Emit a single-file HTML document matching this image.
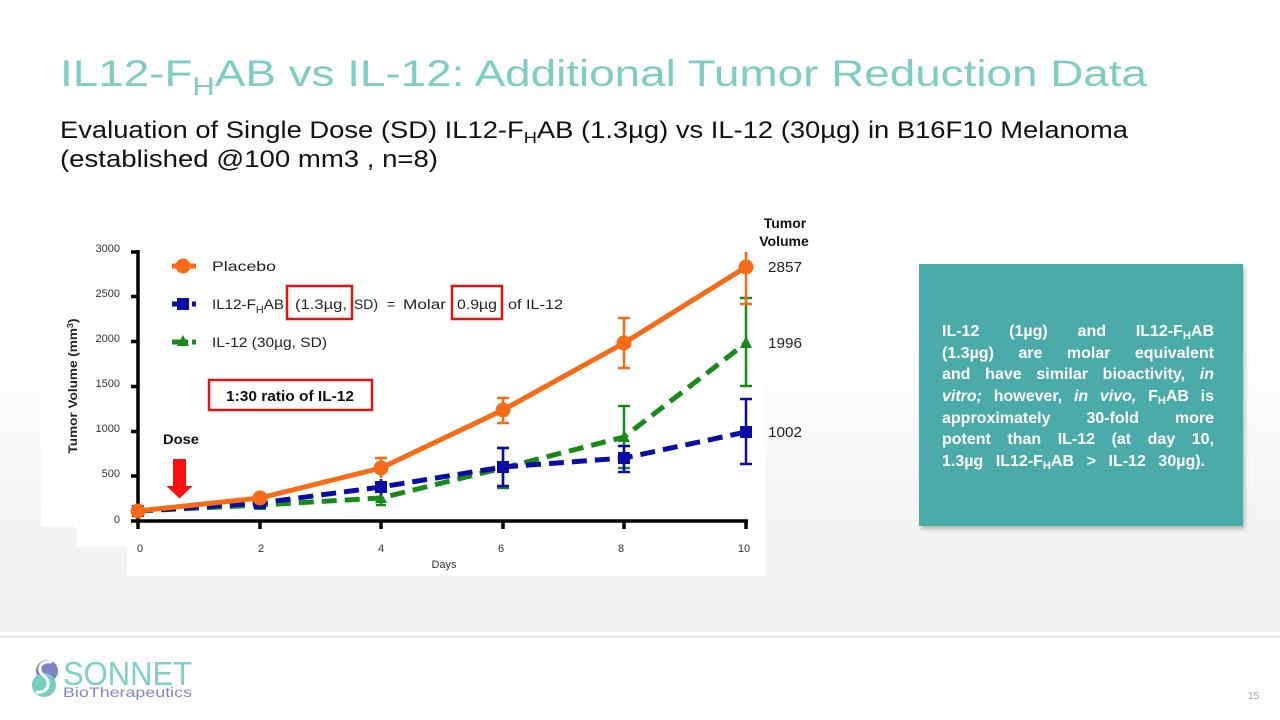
<!DOCTYPE html>
<html>
<head>
<meta charset="utf-8">
<style>
  html,body{margin:0;padding:0;background:#fff;}
  body{position:relative;width:1280px;height:720px;overflow:hidden;}
  svg{display:block;position:absolute;left:0;top:0;}
  text{font-family:"Liberation Sans", Arial, sans-serif;}
  #box{position:absolute;left:942px;top:321px;width:272px;color:#fff;font-family:"Liberation Sans", Arial, sans-serif;font-weight:bold;font-size:16px;line-height:21.7px;}
  #box div{height:21.7px;text-align:justify;text-align-last:justify;white-space:nowrap;}
  #box div.last{width:263px;}
  #box span.s{font-size:11px;position:relative;top:3px;}
  #box i{font-style:italic;}
</style>
</head>
<body>
<svg width="1280" height="720" viewBox="0 0 1280 720" xmlns="http://www.w3.org/2000/svg">
  <defs>
    <linearGradient id="bg" x1="0" y1="0" x2="0" y2="1">
      <stop offset="0" stop-color="#ffffff"/>
      <stop offset="0.55" stop-color="#ffffff"/>
      <stop offset="1" stop-color="#efefef"/>
    </linearGradient>
    <filter id="sh" x="-10%" y="-10%" width="120%" height="120%">
      <feGaussianBlur stdDeviation="2"/>
    </filter>
  </defs>

  <!-- background -->
  <rect x="0" y="0" width="1280" height="632" fill="url(#bg)"/>
  <rect x="0" y="632" width="1280" height="88" fill="#ffffff"/>
  <line x1="0" y1="636.8" x2="1280" y2="636.8" stroke="#e0e0e0" stroke-width="1.5"/>

  <!-- chart white image area -->
  <rect x="41" y="200" width="36" height="327" fill="#ffffff"/>
  <rect x="77" y="200" width="51" height="347" fill="#ffffff"/>
  <rect x="127" y="200" width="638" height="376" fill="#ffffff"/>

  <!-- Title -->
  <text x="60" y="86" font-size="37" fill="#7ecdc1" textLength="1087" lengthAdjust="spacingAndGlyphs">IL12-F<tspan font-size="25" dy="9">H</tspan><tspan dy="-9">AB vs IL-12: Additional Tumor Reduction Data</tspan></text>

  <!-- Subtitle -->
  <text x="60" y="138" font-size="24" fill="#111" textLength="1068" lengthAdjust="spacingAndGlyphs">Evaluation of Single Dose (SD) IL12-F<tspan font-size="16" dy="5">H</tspan><tspan dy="-5">AB (1.3µg) vs IL-12 (30µg) in B16F10 Melanoma</tspan></text>
  <text x="60" y="167" font-size="24" fill="#111" textLength="378" lengthAdjust="spacingAndGlyphs">(established @100 mm3 , n=8)</text>

  <!-- Y axis title -->
  <text transform="translate(77,386) rotate(-90)" text-anchor="middle" font-size="12" font-weight="bold" fill="#222" textLength="135" lengthAdjust="spacingAndGlyphs">Tumor Volume (mm<tspan font-size="8" dy="-4">3</tspan><tspan dy="4">)</tspan></text>

  <!-- Y tick labels -->
  <g font-size="11" fill="#333" text-anchor="end">
    <text x="120" y="252">3000</text>
    <text x="120" y="297">2500</text>
    <text x="120" y="342">2000</text>
    <text x="120" y="387">1500</text>
    <text x="120" y="432">1000</text>
    <text x="120" y="477">500</text>
    <text x="120" y="523">0</text>
  </g>

  <!-- Axes -->
  <g stroke="#000" stroke-width="3.5" fill="none">
    <line x1="138" y1="250" x2="138" y2="523"/>
    <line x1="136.5" y1="521" x2="748" y2="521"/>
    <line x1="131" y1="252" x2="138" y2="252"/>
    <line x1="131" y1="296.5" x2="138" y2="296.5"/>
    <line x1="131" y1="341.5" x2="138" y2="341.5"/>
    <line x1="131" y1="386.5" x2="138" y2="386.5"/>
    <line x1="131" y1="431.5" x2="138" y2="431.5"/>
    <line x1="131" y1="476" x2="138" y2="476"/>
    <line x1="131" y1="521" x2="138" y2="521"/>
    <line x1="138" y1="521" x2="138" y2="529"/>
    <line x1="260" y1="521" x2="260" y2="529"/>
    <line x1="381" y1="521" x2="381" y2="529"/>
    <line x1="503" y1="521" x2="503" y2="529"/>
    <line x1="624" y1="521" x2="624" y2="529"/>
    <line x1="746" y1="521" x2="746" y2="529"/>
  </g>

  <!-- X tick labels -->
  <g font-size="11" fill="#333" text-anchor="middle">
    <text x="140" y="552">0</text>
    <text x="261" y="552">2</text>
    <text x="381" y="552">4</text>
    <text x="501" y="552">6</text>
    <text x="621" y="552">8</text>
    <text x="744" y="552">10</text>
    <text x="444" y="568">Days</text>
  </g>

  <!-- Green series -->
  <g stroke="#178a17" fill="none">
    <g stroke-width="2.5">
      <line x1="381" y1="490" x2="381" y2="505"/><line x1="376" y1="505" x2="386" y2="505"/>
      <line x1="503" y1="448" x2="503" y2="488"/><line x1="497" y1="448" x2="509" y2="448"/><line x1="497" y1="488" x2="509" y2="488"/>
      <line x1="624" y1="406" x2="624" y2="468"/><line x1="618" y1="406" x2="630" y2="406"/><line x1="618" y1="468" x2="630" y2="468"/>
      <line x1="746" y1="298" x2="746" y2="386"/><line x1="740" y1="298" x2="752" y2="298"/><line x1="740" y1="386" x2="752" y2="386"/>
    </g>
    <polyline points="138,511 260,505 381,498 503,468 624,437 746,343" stroke-width="5" stroke-dasharray="15 8"/>
  </g>
  <g fill="#178a17">
    <polygon points="138,505 144,516 132,516"/>
    <polygon points="260,499 266,510 254,510"/>
    <polygon points="381,492 387,503 375,503"/>
    <polygon points="503,462 509,473 497,473"/>
    <polygon points="624,431 630,442 618,442"/>
    <polygon points="746,336 752,348 740,348"/>
  </g>

  <!-- Blue series -->
  <g stroke="#0b0ba6" fill="none">
    <g stroke-width="2.5">
      <line x1="381" y1="479" x2="381" y2="495"/>
      <line x1="503" y1="448" x2="503" y2="486"/><line x1="497" y1="448" x2="509" y2="448"/><line x1="497" y1="486" x2="509" y2="486"/>
      <line x1="624" y1="446" x2="624" y2="472"/><line x1="618" y1="446" x2="630" y2="446"/><line x1="618" y1="472" x2="630" y2="472"/>
      <line x1="746" y1="399" x2="746" y2="464"/><line x1="740" y1="399" x2="752" y2="399"/><line x1="740" y1="464" x2="752" y2="464"/>
    </g>
    <polyline points="138,511 260,503 381,487 503,467 624,458 746,432" stroke-width="5" stroke-dasharray="15 8"/>
  </g>
  <g fill="#0b0ba6">
    <rect x="132" y="505" width="12" height="12"/>
    <rect x="254" y="497" width="12" height="12"/>
    <rect x="375" y="481" width="12" height="12"/>
    <rect x="497" y="461" width="12" height="12"/>
    <rect x="618" y="452" width="12" height="12"/>
    <rect x="740" y="426" width="12" height="12"/>
  </g>

  <!-- Orange series -->
  <g stroke="#f86b16" fill="none">
    <g stroke-width="2.5">
      <line x1="381" y1="458" x2="381" y2="478"/><line x1="375" y1="458" x2="387" y2="458"/>
      <line x1="503" y1="398" x2="503" y2="423"/><line x1="497" y1="398" x2="509" y2="398"/><line x1="497" y1="423" x2="509" y2="423"/>
      <line x1="624" y1="318" x2="624" y2="368"/><line x1="618" y1="318" x2="630" y2="318"/><line x1="618" y1="368" x2="630" y2="368"/>
      <line x1="746" y1="252" x2="746" y2="304"/><line x1="740" y1="304" x2="752" y2="304"/>
    </g>
    <polyline points="138,511 260,498 381,468 503,410 624,343 746,267" stroke-width="5" stroke-linejoin="round"/>
  </g>
  <g fill="#f86b16">
    <circle cx="138" cy="511" r="7.5"/>
    <circle cx="260" cy="498" r="7.5"/>
    <circle cx="381" cy="468" r="7.5"/>
    <circle cx="503" cy="410" r="7.5"/>
    <circle cx="624" cy="343" r="7.5"/>
    <circle cx="746" cy="267" r="7.5"/>
  </g>

  <!-- Legend -->
  <line x1="172" y1="266" x2="196" y2="266" stroke="#f86b16" stroke-width="5"/>
  <circle cx="183" cy="266" r="7.5" fill="#f86b16"/>
  <text x="212" y="271" font-size="14" fill="#222" textLength="64" lengthAdjust="spacingAndGlyphs">Placebo</text>

  <line x1="172" y1="304" x2="188" y2="304" stroke="#0b0ba6" stroke-width="5"/>
  <line x1="192" y1="304" x2="196" y2="304" stroke="#0b0ba6" stroke-width="5"/>
  <rect x="177" y="298" width="12" height="12" fill="#0b0ba6"/>
  <g font-size="14" fill="#222">
    <text x="212" y="309" textLength="72" lengthAdjust="spacingAndGlyphs">IL12-F<tspan font-size="10" dy="4">H</tspan><tspan dy="-4">AB</tspan></text>
    <text x="295" y="309" textLength="52" lengthAdjust="spacingAndGlyphs">(1.3µg,</text>
    <text x="354" y="309" textLength="24" lengthAdjust="spacingAndGlyphs">SD)</text>
    <text x="387" y="309">=</text>
    <text x="403" y="309" textLength="43" lengthAdjust="spacingAndGlyphs">Molar</text>
    <text x="457" y="309" textLength="40" lengthAdjust="spacingAndGlyphs">0.9µg</text>
    <text x="508" y="309" textLength="55" lengthAdjust="spacingAndGlyphs">of IL-12</text>
  </g>

  <line x1="172" y1="342" x2="188" y2="342" stroke="#178a17" stroke-width="5"/>
  <line x1="192" y1="342" x2="196" y2="342" stroke="#178a17" stroke-width="5"/>
  <polygon points="183,335 189,346 177,346" fill="#178a17"/>
  <text x="212" y="347" font-size="14" fill="#222" textLength="115" lengthAdjust="spacingAndGlyphs">IL-12 (30µg, SD)</text>

  <!-- Red boxes -->
  <g fill="none" stroke="#e01414" stroke-width="2.5">
    <rect x="287" y="286" width="65" height="33"/>
    <rect x="452" y="286" width="50" height="33"/>
    <rect x="209" y="380" width="163" height="30"/>
  </g>
  <text x="226" y="401" font-size="15" font-weight="bold" fill="#111" textLength="128" lengthAdjust="spacingAndGlyphs">1:30 ratio of IL-12</text>

  <!-- Dose arrow -->
  <text x="163" y="444" font-size="14" font-weight="bold" fill="#111" textLength="36" lengthAdjust="spacingAndGlyphs">Dose</text>
  <polygon points="173,459 186,459 186,486 192.5,486 179.5,498.5 166.5,486 173,486" fill="#ff0f0f"/>

  <!-- Right annotations -->
  <g font-weight="bold" font-size="14" fill="#111" text-anchor="middle">
    <text x="785" y="228">Tumor</text>
    <text x="784" y="246">Volume</text>
  </g>
  <g font-size="15" fill="#222">
    <text x="768" y="272" textLength="34" lengthAdjust="spacingAndGlyphs">2857</text>
    <text x="768" y="348" textLength="34" lengthAdjust="spacingAndGlyphs">1996</text>
    <text x="768" y="437" textLength="34" lengthAdjust="spacingAndGlyphs">1002</text>
  </g>

  <!-- Teal box -->
  <rect x="921" y="267" width="324" height="262" fill="#000" opacity="0.25" filter="url(#sh)"/>
  <rect x="919" y="264" width="324" height="262" fill="#4aaba8"/>

  <!-- Logo -->
  <circle cx="47" cy="671" r="11" fill="#7c82c6"/>
  <circle cx="44" cy="685" r="12" fill="#74cfc0"/>
  <path d="M52,662 C40,660 36,670 44,676 C52,682 48,694 36,692" fill="none" stroke="#ffffff" stroke-width="3"/>
  <text x="63" y="685" font-size="33" fill="#7fd0c4" textLength="129" lengthAdjust="spacingAndGlyphs">SONNET</text>
  <text x="63" y="697" font-size="14" fill="#8088c4" textLength="129" lengthAdjust="spacingAndGlyphs">BioTherapeutics</text>

  <!-- Page number -->
  <text x="1248" y="699" font-size="10" fill="#9aa0c8">15</text>
</svg>

<div id="box">
  <div>IL-12 (1µg) and IL12-F<span class="s">H</span>AB</div>
  <div>(1.3µg) are molar equivalent</div>
  <div>and have similar bioactivity, <i>in</i></div>
  <div><i>vitro;</i> however, <i>in vivo,</i> F<span class="s">H</span>AB is</div>
  <div>approximately 30-fold more</div>
  <div>potent than IL-12 (at day 10,</div>
  <div class="last">1.3µg IL12-F<span class="s">H</span>AB &gt; IL-12 30µg).</div>
</div>
</body>
</html>
